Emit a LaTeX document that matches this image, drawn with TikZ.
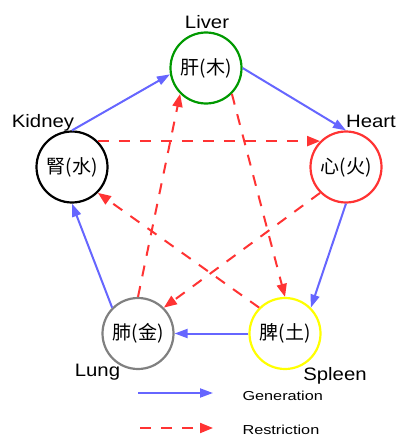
\documentclass[tikz,border=0pt]{standalone}
\usepackage{fontspec}
\setmainfont{Liberation Sans}
\newfontfamily\cjk{Noto Sans CJK SC}
\usetikzlibrary{arrows.meta}
\definecolor{genblue}{HTML}{6666FF}
\definecolor{resred}{HTML}{FF3333}
\definecolor{livgreen}{HTML}{009900}
\definecolor{lunggray}{HTML}{808080}
\definecolor{spyellow}{HTML}{FFFF00}
\newcommand\widetext[2]{\scalebox{#1}[1]{#2}}
\tikzset{
  organ/.style={circle, draw=#1, line width=2.2pt, minimum size=71pt, inner sep=0pt,
    font=\cjk\fontsize{19}{21}\selectfont},
  lbl/.style={anchor=base, font=\fontsize{18}{20}\selectfont},
  legtext/.style={anchor=base west, font=\fontsize{13}{15}\selectfont},
  gen/.style={draw=genblue, line width=2pt, -{Triangle[length=13pt,width=9pt]}},
  res/.style={draw=resred, line width=2pt, dash pattern=on 11pt off 10pt,
    -{Triangle[length=13pt,width=10pt]}}
}
\begin{document}
\begin{tikzpicture}[x=1pt,y=-1pt]
\useasboundingbox (0,0) rectangle (398,436);
% organs
\node[organ=livgreen] (liver) at (206,68) {肝(木)};
\node[organ=resred] (heart) at (346,167) {心(火)};
\node[organ=spyellow] (spleen) at (285,333.5) {脾(土)};
\node[organ=lunggray] (lung) at (138,333.5) {肺(金)};
\node[organ=black] (kidney) at (72,167) {腎(水)};
% labels
\node[lbl] (tliver) at (207,28.3) {\widetext{1.13}{Liver}};
\node[lbl] (theart) at (371,127.3) {\widetext{1.13}{Heart}};
\node[lbl] (tkidney) at (43,127.7) {\widetext{1.13}{Kidney}};
\node[lbl] (tspleen) at (335,380) {\widetext{1.13}{Spleen}};
\node[lbl] (tlung) at (97.5,376.7) {\widetext{1.13}{Lung}};
% generation
\draw[gen] (kidney.north) -- (liver.190);
\draw[gen] (liver.east) -- (heart.north);
\draw[gen] (heart.south) -- (spleen.45);
\draw[gen] (spleen.west) -- (lung.east);
\draw[gen] (lung.135) -- (kidney.south);
% restriction
\draw[res] (kidney.45) -- (heart.135);
\draw[res] (heart.225) -- (lung.45);
\draw[res] (lung.north) -- (liver.225);
\draw[res] (liver.-45) -- (spleen.north);
\draw[res] (spleen.135) -- (kidney.-45);
% legend
\coordinate (g1) at (138,393);
\coordinate (g2) at (213,393);
\coordinate (r1) at (140,428);
\coordinate (r2) at (213,428);
\draw[gen] (g1) -- (g2);
\draw[res] (r1) -- (r2);
\node[legtext] (tgen) at (239,400.7) {\widetext{1.25}{Generation}};
\node[legtext] (tres) at (239,434.3) {\widetext{1.25}{Restriction}};
\end{tikzpicture}
\end{document}
